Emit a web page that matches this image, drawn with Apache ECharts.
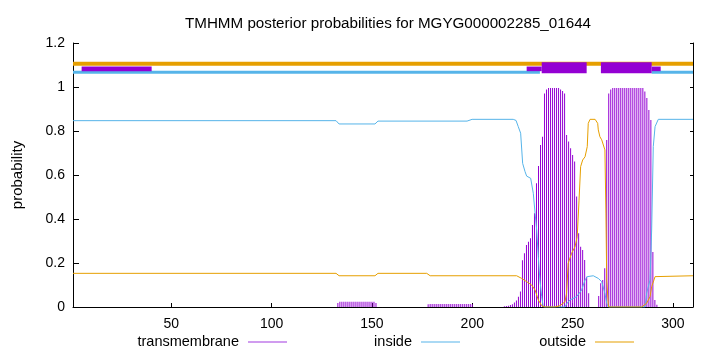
<!DOCTYPE html>
<html>
<head>
<meta charset="utf-8">
<title>TMHMM</title>
<style>
html, body { margin: 0; padding: 0; background: #fff; }
#chart1 { width: 720px; height: 352px; }
</style>
<script src="https://cdn.jsdelivr.net/npm/echarts@6.0.0/dist/echarts.min.js"></script>
</head>
<body>
<div id="chart1"></div>
<script>
// x ticks (residue number)
const xTicks = [50, 100, 150, 200, 250, 300];

// transmembrane posterior, [residue, prob], residues not listed are ~0
const tmPoints = [
  [133,0.018],[134,0.024],[135,0.024],[136,0.024],[137,0.024],[138,0.024],[139,0.024],[140,0.024],
  [141,0.024],[142,0.024],[143,0.024],[144,0.024],[145,0.024],[146,0.024],[147,0.024],[148,0.024],
  [149,0.024],[150,0.024],[151,0.024],[152,0.018],
  [178,0.012],[179,0.014],[180,0.014],[181,0.014],[182,0.014],[183,0.014],[184,0.014],[185,0.014],
  [186,0.014],[187,0.014],[188,0.014],[189,0.014],[190,0.014],[191,0.014],[192,0.014],[193,0.014],
  [194,0.014],[195,0.014],[196,0.014],[197,0.014],[198,0.014],[199,0.014],[200,0.012],
  [216,0.003],[217,0.004],[218,0.006],[219,0.009],[220,0.012],[221,0.02],[222,0.03],[223,0.047],
  [224,0.07],[225,0.213],[226,0.244],[227,0.282],[228,0.297],[229,0.312],[230,0.373],[231,0.426],
  [232,0.562],[233,0.641],[234,0.736],[235,0.774],[236,0.971],[237,0.989],[238,0.995],[239,0.995],
  [240,0.995],[241,0.995],[242,0.995],[243,0.995],[244,0.989],[245,0.982],[246,0.971],[247,0.782],
  [248,0.752],[249,0.722],[250,0.691],[251,0.661],[252,0.502],[253,0.335],[254,0.274],[255,0.259],
  [256,0.214],[257,0.138],[258,0.062],
  [263,0.05],[264,0.108],[265,0.123],[266,0.176],[267,0.759],[268,0.971],[269,0.989],[270,0.995],
  [271,0.995],[272,0.995],[273,0.995],[274,0.995],[275,0.995],[276,0.995],[277,0.995],[278,0.995],
  [279,0.995],[280,0.995],[281,0.995],[282,0.995],[283,0.995],[284,0.995],[285,0.995],[286,0.98],
  [287,0.95],[288,0.895],[289,0.85],[290,0.25],[291,0.032],[292,0.01]
];

// inside posterior
const insidePoints = [
  [1,0.847],[132.1,0.847],[133.6,0.832],[151.5,0.832],[153,0.845],[197.4,0.845],[199.9,0.853],
  [220.4,0.853],[221.8,0.848],[222.9,0.82],[224.1,0.79],[225.1,0.653],[226.3,0.615],[227.1,0.595],
  [229.1,0.585],[230.4,0.517],[231.3,0.426],[232.1,0.35],[232.9,0.229],[233.7,0.123],[234.6,0.047],
  [235.4,0],[246.2,0],[247,0.014],[248.7,0.032],[252,0.047],[254.5,0.077],[256.2,0.123],
  [257.3,0.138],[260.3,0.142],[262.8,0.13],[264.5,0.115],[266.1,0.062],[267,0.017],[267.8,0],
  [286.1,0],[286.9,0.063],[288.6,0.123],[289.4,0.35],[290.2,0.729],[291.1,0.82],[292.7,0.853],
  [310,0.853]
];

// outside posterior
const outsidePoints = [
  [1,0.153],[132.1,0.153],[133.6,0.142],[151.5,0.142],[153,0.153],[177.3,0.153],[179,0.142],
  [222.1,0.142],[224.6,0.13],[227.1,0.115],[229.6,0.1],[231.3,0.077],[232.9,0.032],[234.6,0.006],
  [236.2,0],[241.2,0],[243.7,0.006],[246.2,0.024],[247,0.062],[247.8,0.199],[249.5,0.244],
  [251.2,0.274],[252.3,0.32],[253.2,0.486],[254,0.638],[255,0.668],[256.2,0.683],[257.3,0.729],
  [257.8,0.835],[258.7,0.853],[261.2,0.853],[262.5,0.835],[262.8,0.805],[263.6,0.774],[264.5,0.76],
  [265.3,0.751],[266.1,0.714],[266.6,0.427],[267,0.123],[267.8,0.01],[268.1,0],[284.4,0],
  [286.9,0.017],[288.6,0.047],[289.4,0.092],[291.1,0.138],[291.9,0.142],[310,0.142]
];

// predicted topology bands on top, [from, to]
const outsideBand = [[1, 310]];
const insideBand = [[1, 233.7], [289.4, 310]];
const tmThinBand = [[5.3, 40.2], [227.1, 234.6], [289.4, 293.9]];
const tmThickBand = [[234.6, 257.0], [264.1, 289.4]];

const FONT = "'Liberation Sans', Arial, sans-serif";
const C_TM = "#9400d3";
const C_IN = "#56b4e9";
const C_OUT = "#e69f00";

// rect band drawn on the axes
function bandSeries(segs, lo, hi, color, z) {
  return {
    type: "custom",
    silent: true,
    z: z,
    data: segs.map(function (s) { return [s[0], s[1], lo, hi]; }),
    encode: { x: [0, 1], y: [2, 3] },
    renderItem: function (params, api) {
      var p0 = api.coord([api.value(0), api.value(3)]);
      var p1 = api.coord([api.value(1), api.value(2)]);
      return {
        type: "rect",
        shape: { x: p0[0], y: p0[1], width: p1[0] - p0[0], height: p1[1] - p0[1] },
        style: { fill: color }
      };
    }
  };
}

// one legend block per series, sample line right of the text
function legendFor(name, color, right) {
  return {
    data: [{ name: name, itemStyle: { color: color } }],
    right: right,
    top: 329.5,
    align: "right",
    selectedMode: false,
    icon: "rect",
    itemWidth: 39,
    itemHeight: 1,
    textStyle: { fontFamily: FONT, fontSize: 14.5, color: "#000", padding: [0, 4, 0, 0] }
  };
}

var myChart = echarts.init(document.getElementById("chart1"));
let option = {
  animation: false,
  title: {
    text: "TMHMM posterior probabilities for MGYG000002285_01644",
    left: 383,
    top: 11,
    textAlign: "center",
    textStyle: { fontFamily: FONT, fontSize: 15.2, fontWeight: "normal", color: "#000" }
  },
  legend: [
    legendFor("transmembrane", "#a23be0", 428),
    legendFor("inside", C_IN, 255),
    legendFor("outside", C_OUT, 81)
  ],
  grid: { left: 73, right: 27, top: 43, bottom: 45 },
  xAxis: {
    type: "value",
    min: 1,
    max: 310,
    axisLine: { lineStyle: { color: "#000" } },
    axisTick: { inside: true, length: 4, customValues: xTicks, lineStyle: { color: "#000" } },
    axisLabel: { customValues: xTicks, margin: 10, fontFamily: FONT, fontSize: 14, color: "#000" },
    splitLine: { show: false }
  },
  yAxis: [
    {
      type: "value",
      min: 0,
      max: 1.2,
      interval: 0.2,
      name: "probability",
      nameLocation: "middle",
      nameGap: 48,
      nameTextStyle: { fontFamily: FONT, fontSize: 15, color: "#000" },
      axisLine: { show: true, lineStyle: { color: "#000" } },
      axisTick: { inside: true, length: 6, lineStyle: { color: "#000" } },
      axisLabel: { margin: 8, fontFamily: FONT, fontSize: 14, color: "#000" },
      splitLine: { show: false }
    },
    {
      type: "value",
      position: "right",
      min: 0,
      max: 1.2,
      interval: 0.2,
      axisLine: { show: true, lineStyle: { color: "#000" } },
      axisTick: { inside: true, length: 3, lineStyle: { color: "#000" } },
      axisLabel: { show: false },
      splitLine: { show: false }
    }
  ],
  series: [
    {
      name: "transmembrane",
      type: "bar",
      barWidth: 1,
      data: tmPoints,
      itemStyle: { color: C_TM },
      z: 2
    },
    {
      name: "inside",
      type: "line",
      data: insidePoints,
      showSymbol: false,
      lineStyle: { color: C_IN, width: 1 },
      itemStyle: { color: C_IN },
      z: 3
    },
    {
      name: "outside",
      type: "line",
      data: outsidePoints,
      showSymbol: false,
      lineStyle: { color: C_OUT, width: 1 },
      itemStyle: { color: C_OUT },
      z: 4
    },
    bandSeries(outsideBand, 1.097, 1.115, C_OUT, 5),
    bandSeries(insideBand, 1.06, 1.074, C_IN, 6),
    bandSeries(tmThinBand, 1.072, 1.093, C_TM, 7),
    bandSeries(tmThickBand, 1.062, 1.112, C_TM, 8)
  ]
};
myChart.setOption(option);
</script>
</body>
</html>
